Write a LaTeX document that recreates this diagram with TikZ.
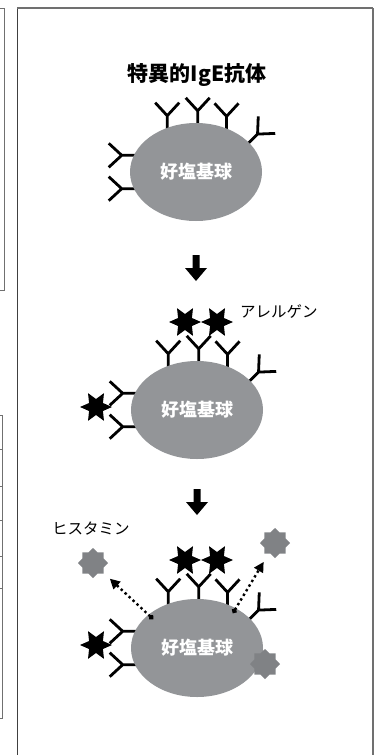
\documentclass[tikz,border=0pt]{standalone}
\usepackage{fontspec}
\newfontfamily\jp{Noto Sans CJK JP}
\usetikzlibrary{shapes.geometric,arrows.meta}
\pgfdeclarelayer{background}
\pgfsetlayers{background,main}

\definecolor{cellgray}{HTML}{939598}
\definecolor{histgray}{HTML}{808285}
\definecolor{framegray}{HTML}{707070}

\tikzset{
  cell/.style={ellipse, fill=cellgray, minimum width=132pt, minimum height=98pt,
    inner sep=0pt, text=white, font=\jp\bfseries\fontsize{18}{20}\selectfont},
  allergen/.style={star, star points=6, star point ratio=2, shape border rotate=30,
    fill=black, minimum size=32pt, inner sep=0pt},
  histamine/.style={star, star points=8, star point ratio=1.3, fill=histgray,
    minimum size=30pt, inner sep=0pt},
  tag/.style={font=\jp\fontsize{15.5}{17}\selectfont, anchor=west, inner sep=0pt},
  release/.style={line width=2.4pt, dash pattern=on 2.4pt off 3pt,
    {Circle[length=5pt]}-{Triangle[length=10pt,width=10pt]}},
  antibody/.pic={\draw[line width=2.8pt] (0,5) -- (0,-12) (-12,-25) -- (0,-12) -- (12,-25);},
  downarrow/.pic={\fill (-3.5,0) -- (3.5,0) -- (3.5,13) -- (11,13) -- (0,26)
    -- (-11,13) -- (-3.5,13) -- cycle;}
}

\begin{document}
\begin{tikzpicture}[x=1pt,y=-1pt]
  \useasboundingbox (0,0) rectangle (375,755);

  % neighbouring panels
  \draw[framegray, line width=1pt] (0,8) -| (4,290) -- (0,290);
  \draw[framegray, line width=1pt] (0,415) -| (2,718) -- (0,718);
  \foreach \y in {449,486,520,556,588}
    \draw[framegray, line width=1pt] (0,\y) -- (2,\y);

  % frame
  \draw[black!75, line width=0.9pt] (17,8) -- (17,760);
  \draw[framegray, line width=1.2pt] (17,8) -- (373,8);
  \draw[framegray, line width=2pt] (373,8) -- (373,760);

  \node[font=\jp\bfseries\fontsize{21}{24}\selectfont] (title) at (197,75) {特異的IgE抗体};

  % basophils
  \node[cell] (basoA) at (196,172) {好塩基球};
  \node[cell] (basoB) at (197,410) {好塩基球};
  \node[cell] (basoC) at (197,648) {好塩基球};

  % IgE on the cell surface
  \begin{pgfonlayer}{background}
    \foreach \c in {basoA,basoB,basoC}{
      \pic at (\c.123) {antibody};
      \pic at (\c.88) {antibody};
      \pic at (\c.55) {antibody};
      \pic[rotate=-45] at (\c.29) {antibody};
      \pic[rotate=90] at (\c.165) {antibody};
      \pic[rotate=90] at (\c.195) {antibody};
    }
  \end{pgfonlayer}

  \pic at (196,255) {downarrow};
  \pic at (197,489) {downarrow};

  % allergens
  \node[allergen] (agB1) at ([shift={(-12,-88)}]basoB.center) {};
  \node[allergen] (agB2) at ([shift={(20,-88)}]basoB.center) {};
  \node[allergen] (agB3) at ([shift={(-101,-3)}]basoB.center) {};
  \node[tag] (allergenlbl) at (240,312) {アレルゲン};

  \node[allergen] (agC1) at ([shift={(-12,-88)}]basoC.center) {};
  \node[allergen] (agC2) at ([shift={(20,-88)}]basoC.center) {};
  \node[allergen] (agC3) at ([shift={(-101,-3)}]basoC.center) {};

  % histamine release
  \node[tag] (histlbl) at (52,529) {ヒスタミン};
  \node[histamine] (hA) at (93,563) {};
  \node[histamine] (hB) at (275,543) {};
  \node[histamine] (hC) at (265,664) {};
  \coordinate (relA) at (153,619);
  \coordinate (relB) at (233,613);
  \draw[release, shorten >=23pt] (relA) -- (hA.center);
  \draw[release, shorten >=22pt] (relB) -- (hB.center);
\end{tikzpicture}
\end{document}
